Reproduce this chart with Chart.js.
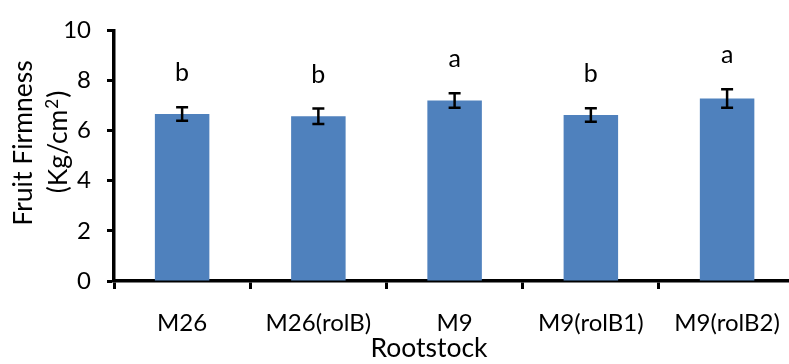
<!DOCTYPE html>
<html>
<head>
<meta charset="utf-8">
<script src="https://cdn.jsdelivr.net/npm/chart.js@4/dist/chart.umd.min.js"></script>
<style>
  html, body { margin: 0; padding: 0; background: #fff; overflow: hidden; }
  #wrap { width: 800px; height: 364px; }
</style>
</head>
<body>
<div id="wrap"><canvas id="c" width="800" height="364"></canvas></div>
<script>
// Fruit firmness by rootstock, mean ± error, with significance letters
const rootstocks = ['M26', 'M26(rolB)', 'M9', 'M9(rolB1)', 'M9(rolB2)'];
const firmness = [6.66, 6.57, 7.20, 6.62, 7.28];
const firmnessErr = [0.27, 0.31, 0.29, 0.27, 0.37];
const groupLetters = ['b', 'b', 'a', 'b', 'a'];
const yTicks = [0, 2, 4, 6, 8, 10];

const FONT = 'Lato, "Open Sans", sans-serif';
const INK = '#000';

// Error bars and significance letters drawn on top of the bars
const errorBarPlugin = {
  id: 'errorBars',
  afterDatasetsDraw(chart) {
    const { ctx, scales: { y } } = chart;
    const meta = chart.getDatasetMeta(0);
    ctx.save();
    ctx.strokeStyle = INK;
    ctx.lineWidth = 2.5;
    ctx.fillStyle = INK;
    ctx.font = '25px ' + FONT;
    ctx.textAlign = 'center';
    ctx.textBaseline = 'alphabetic';
    firmness.forEach((v, i) => {
      const cx = meta.data[i].x;
      const yHi = y.getPixelForValue(v + firmnessErr[i]);
      const yLo = y.getPixelForValue(v - firmnessErr[i]);
      const cap = 6;
      ctx.beginPath();
      ctx.moveTo(cx, yHi); ctx.lineTo(cx, yLo);
      ctx.moveTo(cx - cap, yHi); ctx.lineTo(cx + cap, yHi);
      ctx.moveTo(cx - cap, yLo); ctx.lineTo(cx + cap, yLo);
      ctx.stroke();
      ctx.fillText(groupLetters[i], cx, yHi - 26);
    });
    ctx.restore();
  }
};

// Axis titles (unit line has a real superscript 2)
const axisTitlePlugin = {
  id: 'axisTitles',
  afterDraw(chart) {
    const { ctx } = chart;
    const big = '26.5px ' + FONT;
    const small = '17px ' + FONT;
    ctx.save();
    ctx.fillStyle = INK;
    ctx.font = big;
    ctx.textAlign = 'center';
    ctx.textBaseline = 'middle';
    ctx.fillText('Rootstock', 429, 348);
    ctx.translate(23, 143);
    ctx.rotate(-Math.PI / 2);
    ctx.fillText('Fruit Firmness', 0, 0);

    // "(Kg/cm" + superscript "2" + ")"
    const a = '(Kg/cm', sup = '2', b = ')';
    ctx.font = big;
    const wa = ctx.measureText(a).width;
    const wb = ctx.measureText(b).width;
    ctx.font = small;
    const ws = ctx.measureText(sup).width;
    let x0 = -(wa + ws + wb) / 2;
    ctx.textAlign = 'left';
    ctx.textBaseline = 'alphabetic';
    const base = 35 + 9;
    ctx.font = big;
    ctx.fillText(a, x0, base);
    ctx.font = small;
    ctx.fillText(sup, x0 + wa + 1, base - 9);
    ctx.font = big;
    ctx.fillText(b, x0 + wa + ws + 2, base);
    ctx.restore();
  }
};

new Chart(document.getElementById('c'), {
  type: 'bar',
  data: {
    labels: rootstocks,
    datasets: [{
      data: firmness,
      backgroundColor: '#4f81bd',
      borderWidth: 0,
      categoryPercentage: 1,
      barPercentage: 0.4
    }]
  },
  options: {
    responsive: false,
    animation: false,
    devicePixelRatio: 1,
    layout: { padding: { top: 18, right: 1, left: 0, bottom: 0 } },
    plugins: { legend: { display: false }, tooltip: { enabled: false } },
    scales: {
      x: {
        grid: {
          offset: true,
          drawOnChartArea: false,
          drawTicks: true,
          tickLength: 8,
          tickWidth: 3,
          tickColor: INK
        },
        border: { display: true, color: INK, width: 3.5 },
        ticks: { color: INK, font: { family: FONT, size: 24 }, padding: 20, maxRotation: 0, autoSkip: false },
        afterFit(s) { s.height = 83; }
      },
      y: {
        min: 0,
        max: 10,
        afterBuildTicks(s) { s.ticks = yTicks.map(v => ({ value: v })); },
        grid: {
          drawOnChartArea: false,
          drawTicks: true,
          tickLength: 7,
          tickWidth: 3,
          tickColor: INK
        },
        border: { display: true, color: INK, width: 3.5 },
        ticks: { color: INK, font: { family: FONT, size: 24 }, padding: 16 },
        afterFit(s) { s.width = 114; }
      }
    }
  },
  plugins: [errorBarPlugin, axisTitlePlugin]
});
</script>
</body>
</html>
